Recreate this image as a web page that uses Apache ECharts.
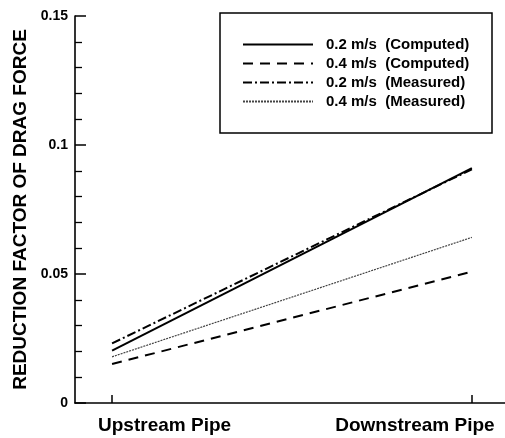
<!DOCTYPE html>
<html>
<head>
<meta charset="utf-8">
<script src="https://cdn.jsdelivr.net/npm/echarts@6/dist/echarts.min.js"></script>
<style>
  html, body { margin: 0; padding: 0; background: #fff; }
  #chart { width: 505px; height: 438px; }
</style>
</head>
<body>
<div id="chart"></div>
<script>
// categories along the x axis (placed at x = 0 and x = 1)
const categories = ['Upstream Pipe', 'Downstream Pipe'];
const seriesNames = [
  '0.2 m/s  (Computed)',
  '0.4 m/s  (Computed)',
  '0.2 m/s  (Measured)',
  '0.4 m/s  (Measured)'
];
// reduction factor values
const computed02 = [0.0203, 0.0910];
const computed04 = [0.0151, 0.0509];
const measured02 = [0.0231, 0.0906];
const measured04 = [0.0179, 0.0642];
const yTicks = [0, 0.05, 0.1, 0.15];

const font = 'Liberation Sans, Arial, Helvetica, sans-serif';

function toPoints(values) {
  return values.map((v, i) => [i, v]);   // category index -> x position
}

const chart = echarts.init(document.getElementById('chart'));

const option = {
  animation: false,
  backgroundColor: '#fff',
  grid: { left: 75, right: 0, top: 16, bottom: 35, outerBoundsMode: 'none' },
  xAxis: {
    type: 'value',
    min: -0.103,
    max: 1.092,
    splitLine: { show: false },
    axisLine: { show: true, onZero: false, lineStyle: { color: '#000', width: 1.6 } },
    axisTick: {
      show: true,
      inside: true,
      length: 8,
      customValues: [0, 1],
      lineStyle: { color: '#000', width: 1.5 }
    },
    axisLabel: {
      customValues: [0, 1],
      margin: 13,
      formatter: val => (val < 0.5 ? '{up|' : '{down|') + categories[Math.round(val)] + '}',
      rich: {
        up: { fontFamily: font, fontSize: 19, fontWeight: 'bold', color: '#000', padding: [0, 0, 0, 105] },
        down: { fontFamily: font, fontSize: 19, fontWeight: 'bold', color: '#000', padding: [0, 114, 0, 0] }
      }
    }
  },
  yAxis: {
    type: 'value',
    min: yTicks[0],
    max: yTicks[yTicks.length - 1],
    interval: 0.05,
    name: 'REDUCTION FACTOR OF DRAG FORCE',
    nameLocation: 'middle',
    nameRotate: 90,
    nameGap: 38,
    nameTextStyle: { fontFamily: font, fontSize: 19, fontWeight: 'bold', color: '#000' },
    splitLine: { show: false },
    axisLine: { show: true, onZero: false, lineStyle: { color: '#000', width: 1.6 } },
    axisTick: { show: true, inside: true, length: 11, lineStyle: { color: '#000', width: 1.5 } },
    minorTick: { show: true, splitNumber: 5, length: 7, lineStyle: { color: '#000', width: 1.3 } },
    axisLabel: {
      margin: 7,
      fontFamily: font,
      fontSize: 14,
      fontWeight: 'bold',
      color: '#000',
      formatter: v => String(v)
    }
  },
  legend: {
    orient: 'vertical',
    left: 242,
    top: 37,
    padding: 0,
    itemWidth: 70,
    itemHeight: 14,
    itemGap: 4,
    selectedMode: false,
    data: seriesNames,
    itemStyle: { opacity: 0 },
    textStyle: { fontFamily: font, fontSize: 15, fontWeight: 'bold', color: '#000', padding: [0, 0, 0, 8] }
  },
  graphic: [{
    type: 'rect',
    shape: { x: 220, y: 13, width: 272, height: 120 },
    style: { fill: 'transparent', stroke: '#000', lineWidth: 1.5 },
    z: 100
  }],
  series: [
    {
      name: seriesNames[0], type: 'line', symbol: 'none', color: '#000',
      lineStyle: { color: '#000', width: 2, type: 'solid' },
      data: toPoints(computed02)
    },
    {
      name: seriesNames[1], type: 'line', symbol: 'none', color: '#000',
      lineStyle: { color: '#000', width: 2, type: [10, 7] },
      data: toPoints(computed04)
    },
    {
      name: seriesNames[2], type: 'line', symbol: 'none', color: '#000',
      lineStyle: { color: '#000', width: 2, type: [9, 3, 2, 3] },
      data: toPoints(measured02)
    },
    {
      name: seriesNames[3], type: 'line', symbol: 'none', color: '#444',
      lineStyle: { color: '#444', width: 1.2, type: [2, 1] },
      data: toPoints(measured04)
    }
  ]
};

chart.setOption(option);
</script>
</body>
</html>
